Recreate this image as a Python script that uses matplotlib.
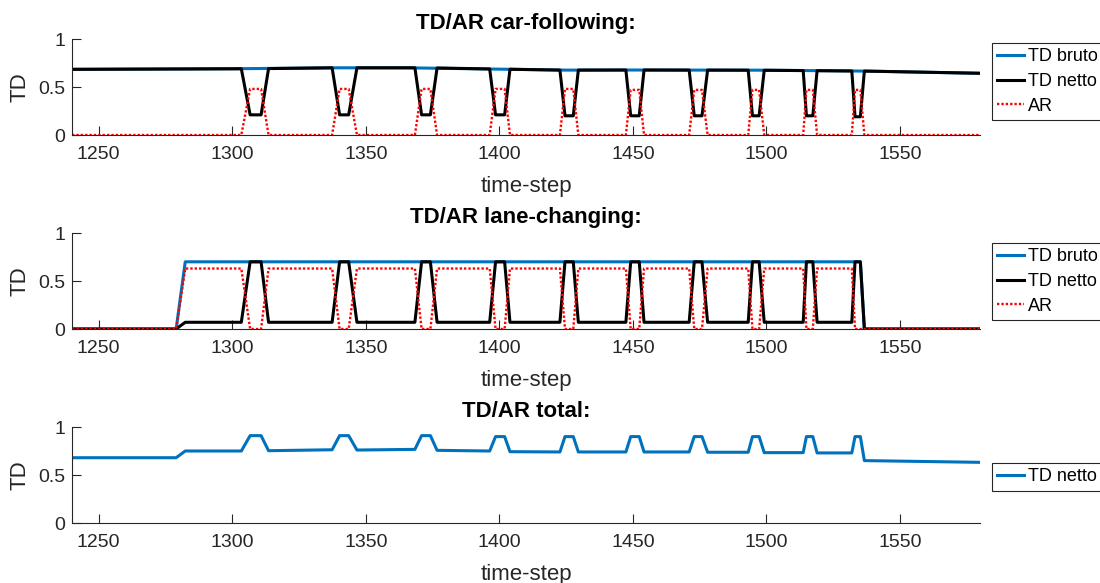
import numpy as np
import matplotlib
matplotlib.use("Agg")
import matplotlib.pyplot as plt

plt.rcParams['font.family'] = ['Liberation Sans', 'DejaVu Sans']

# event timing (start of ramp, start of plateau, end of plateau, end of ramp)
ev_start = [1303.4, 1337.4, 1368.4, 1396.4, 1422.7, 1447.4, 1471.1, 1493.2, 1513.8, 1532.0]
ev_in = [1306.7, 1340.2, 1370.9, 1398.6, 1424.6, 1449.2, 1473.0, 1494.8, 1515.0, 1533.2]
ev_out = [1310.8, 1343.6, 1374.2, 1402.0, 1427.7, 1452.4, 1475.9, 1497.3, 1517.4, 1535.2]
ev_end = [1313.6, 1346.7, 1376.7, 1404.0, 1429.6, 1454.2, 1478.0, 1499.2, 1519.0, 1536.7]

# car-following
cf_bruto_t = [1240, 1300, 1340, 1365, 1400, 1425, 1450, 1500, 1536, 1580]
cf_bruto_v = [0.684, 0.69, 0.70, 0.70, 0.686, 0.676, 0.677, 0.675, 0.666, 0.643]
cf_level_start = [0.69, 0.70, 0.70, 0.688, 0.676, 0.677, 0.676, 0.675, 0.671, 0.667]
cf_level_end = [0.692, 0.70, 0.698, 0.685, 0.676, 0.677, 0.676, 0.674, 0.670, 0.666]
cf_netto_dip = [0.21, 0.21, 0.21, 0.21, 0.20, 0.20, 0.20, 0.20, 0.20, 0.19]
cf_ar_peak = [0.48, 0.48, 0.48, 0.48, 0.48, 0.47, 0.47, 0.47, 0.47, 0.47]

# lane-changing
lc_on = [1279, 1282.4]
lc_bruto_t = [1240, 1279, 1282.4, 1535.2, 1536.7, 1580]
lc_bruto_v = [0.0, 0.0, 0.70, 0.70, 0.0, 0.0]
lc_netto_base = 0.07
lc_netto_peak = 0.70
lc_ar_base = 0.63

# total
tot_pre = [0.68, 0.68, 0.75]
tot_start = [0.75, 0.763, 0.767, 0.75, 0.74, 0.74, 0.74, 0.737, 0.733, 0.73]
tot_peak = [0.91, 0.91, 0.91, 0.90, 0.90, 0.90, 0.90, 0.90, 0.90, 0.90]
tot_end = [0.753, 0.76, 0.757, 0.743, 0.74, 0.74, 0.737, 0.733, 0.73, 0.65]
tot_last = 0.632

xticks = [1250, 1300, 1350, 1400, 1450, 1500, 1550]
yticks = [0, 0.5, 1]

# build series
cf_t, cf_netto, cf_ar = [1240], [0.684], [0.0]
lc_t, lc_netto, lc_ar = [1240] + lc_on, [0.0, 0.0, lc_netto_base], [0.0, 0.0, lc_ar_base]
tot_t, tot_v = [1240] + lc_on, list(tot_pre)
n = len(ev_start)
for k in range(n):
    ts = [ev_start[k], ev_in[k], ev_out[k], ev_end[k]]
    cf_t += ts
    cf_netto += [cf_level_start[k], cf_netto_dip[k], cf_netto_dip[k], cf_level_end[k]]
    cf_ar += [0.0, cf_ar_peak[k], cf_ar_peak[k], 0.0]
    lc_t += ts
    last = k == n - 1
    lc_netto += [lc_netto_base, lc_netto_peak, lc_netto_peak, 0.0 if last else lc_netto_base]
    lc_ar += [lc_ar_base, 0.0, 0.0, 0.0 if last else lc_ar_base]
    tot_t += ts
    tot_v += [tot_start[k], tot_peak[k], tot_peak[k], tot_end[k]]
cf_t.append(1580); cf_netto.append(0.643); cf_ar.append(0.0)
lc_t.append(1580); lc_netto.append(0.0); lc_ar.append(0.0)
tot_t.append(1580); tot_v.append(tot_last)

blue = '#0072BD'
dark = '#262626'

fig = plt.figure(figsize=(11, 5.83), dpi=100)
W, H = 1100.0, 583.0
rects = [(72, 39), (72, 233), (72, 427)]
axes = []
for (x0, y0) in rects:
    ax = fig.add_axes([x0 / W, 1 - (y0 + 96) / H, 908 / W, 96 / H])
    axes.append(ax)

def style(ax, title):
    ax.set_xlim(1240, 1580)
    ax.set_ylim(0, 1)
    ax.set_xticks(xticks)
    ax.set_yticks(yticks)
    ax.set_yticklabels(['0', '0.5', '1'])
    for s in ['top', 'right']:
        ax.spines[s].set_visible(False)
    for s in ['left', 'bottom']:
        ax.spines[s].set_color(dark)
        ax.spines[s].set_linewidth(0.8)
    ax.tick_params(direction='in', length=6.5, width=0.8, colors=dark, labelsize=14)
    ax.tick_params(axis='x', pad=8)
    ax.tick_params(axis='y', pad=5)
    ax.set_xlabel('time-step', fontsize=16, color=dark, labelpad=9)
    ax.set_ylabel('TD', fontsize=16, color=dark, labelpad=5)
    ax.set_title(title, fontsize=16, fontweight='bold', color='black', pad=7)

def legend(ax, top_px):
    leg = ax.legend(loc='upper left', bbox_to_anchor=(992 / W, 1 - top_px / H),
                    bbox_transform=fig.transFigure, borderaxespad=0, fontsize=13,
                    fancybox=False, framealpha=1, edgecolor=dark, handlelength=1.45,
                    handletextpad=0.22, labelspacing=0.42, borderpad=0.3)
    leg.get_frame().set_linewidth(0.8)

dots = (1, 0.85)

ax = axes[0]
ax.plot(cf_bruto_t, cf_bruto_v, color=blue, lw=2.2, label='TD bruto')
ax.plot(cf_t, cf_netto, color='black', lw=2.2, label='TD netto')
ax.plot(cf_t, cf_ar, color='red', lw=1.7, dashes=dots, label='AR')
style(ax, 'TD/AR car-following:')
legend(ax, 43)

ax = axes[1]
ax.plot(lc_bruto_t, lc_bruto_v, color=blue, lw=2.2, label='TD bruto')
ax.plot(lc_t, lc_netto, color='black', lw=2.2, label='TD netto')
ax.plot(lc_t, lc_ar, color='red', lw=1.7, dashes=dots, label='AR')
style(ax, 'TD/AR lane-changing:')
legend(ax, 243)

ax = axes[2]
ax.plot(tot_t, tot_v, color=blue, lw=2.2, label='TD netto')
style(ax, 'TD/AR total:')
legend(ax, 463)

fig.savefig('out.png', dpi=100)
